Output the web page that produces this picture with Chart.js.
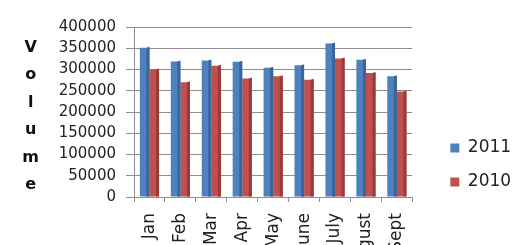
<!DOCTYPE html>
<html>
<head>
<meta charset="utf-8">
<script src="https://cdn.jsdelivr.net/npm/chart.js@4/dist/chart.umd.min.js"></script>
<style>
  html, body { margin: 0; padding: 0; background: #fff; overflow: hidden; }
  #wrap { width: 520px; height: 245px; overflow: hidden; position: relative; }
  canvas { display: block; }
</style>
</head>
<body>
<div id="wrap"><canvas id="c" width="520" height="303"></canvas></div>
<script>
const categories = ['Jan', 'Feb', 'Mar', 'Apr', 'May', 'June', 'July', 'August', 'Sept'];
const seriesNames = ['2011', '2010'];
const values2011 = [351000, 319000, 321000, 318000, 304000, 310000, 361000, 323000, 284000];
const values2010 = [300000, 270000, 309000, 279000, 284000, 276000, 326000, 292000, 248000];
const yTickValues = [0, 50000, 100000, 150000, 200000, 250000, 300000, 350000, 400000];
const yTitle = 'Volume';

const FRONT = ['#4f81bd', '#c0504d'];
const SIDE = ['#3a659a', '#963c3a'];
const GRID = '#8f8f8f';

const sidePlugin = {
  id: 'sideFaces',
  afterDatasetsDraw(chart) {
    const ctx = chart.ctx;
    ctx.save();
    chart.data.datasets.forEach((ds, i) => {
      const meta = chart.getDatasetMeta(i);
      meta.data.forEach(bar => {
        const p = bar.getProps(['x', 'y', 'base', 'width'], true);
        const r = p.x + p.width / 2;
        ctx.fillStyle = SIDE[i];
        ctx.beginPath();
        ctx.moveTo(r - 3, p.y);
        ctx.lineTo(r, p.y - 1);
        ctx.lineTo(r, p.base);
        ctx.lineTo(r - 3, p.base);
        ctx.closePath();
        ctx.fill();
      });
    });
    ctx.restore();
  }
};

const titlePlugin = {
  id: 'stackedTitle',
  afterDraw(chart) {
    const ctx = chart.ctx;
    ctx.save();
    ctx.font = 'bold 16px "DejaVu Sans"';
    ctx.fillStyle = '#111';
    ctx.textAlign = 'center';
    ctx.textBaseline = 'alphabetic';
    yTitle.split('').forEach((ch, i) => {
      ctx.fillText(ch, 30.7, 52 + i * 27.4);
    });
    ctx.restore();
  }
};

// empty layout box that keeps a gap between the plot and the legend
const gapPlugin = {
  id: 'legendGap',
  beforeInit(chart) {
    if (!Chart.layouts) return;
    const box = {
      position: 'right',
      weight: 500,
      fullSize: false,
      options: {},
      width: 0, height: 0, left: 0, top: 0, right: 0, bottom: 0,
      isHorizontal() { return false; },
      update(maxWidth, maxHeight) {
        this.width = 21;
        this.height = maxHeight;
      },
      draw() {}
    };
    try { Chart.layouts.addBox(chart, box); } catch (e) {}
  }
};

new Chart(document.getElementById('c'), {
  type: 'bar',
  data: {
    labels: categories,
    datasets: [
      { label: seriesNames[0], data: values2011, backgroundColor: FRONT[0], borderWidth: 0 },
      { label: seriesNames[1], data: values2010, backgroundColor: FRONT[1], borderWidth: 0 }
    ]
  },
  options: {
    responsive: false,
    animation: false,
    devicePixelRatio: 1,
    layout: { padding: { top: 27, left: 0, right: 0, bottom: 0 } },
    datasets: { bar: { categoryPercentage: 0.62, barPercentage: 1.0 } },
    plugins: {
      tooltip: { enabled: false },
      legend: {
        position: 'right',
        align: 'center',
        labels: {
          boxWidth: 9,
          boxHeight: 9,
          padding: 17,
          color: '#222',
          font: { family: 'DejaVu Sans', size: 17 }
        }
      }
    },
    scales: {
      x: {
        offset: true,
        grid: { display: true, drawOnChartArea: false, tickLength: 5, color: GRID, offset: true },
        border: { display: true, color: GRID, width: 1 },
        ticks: {
          maxRotation: 90, minRotation: 90, autoSkip: false, padding: 11,
          color: '#222', font: { family: 'DejaVu Sans', size: 17 }
        },
        afterFit(s) { s.height = 106; }
      },
      y: {
        min: 0, max: 400000,
        grid: { color: GRID, tickLength: 8, lineWidth: 1 },
        border: { display: true, color: GRID, width: 1 },
        ticks: {
          padding: 10, color: '#222', font: { family: 'DejaVu Sans', size: 15 },
          callback: v => String(v)
        },
        afterBuildTicks(s) { s.ticks = yTickValues.map(v => ({ value: v })); },
        afterFit(s) { s.width = 134; }
      }
    }
  },
  plugins: [gapPlugin, sidePlugin, titlePlugin]
});
</script>
</body>
</html>
